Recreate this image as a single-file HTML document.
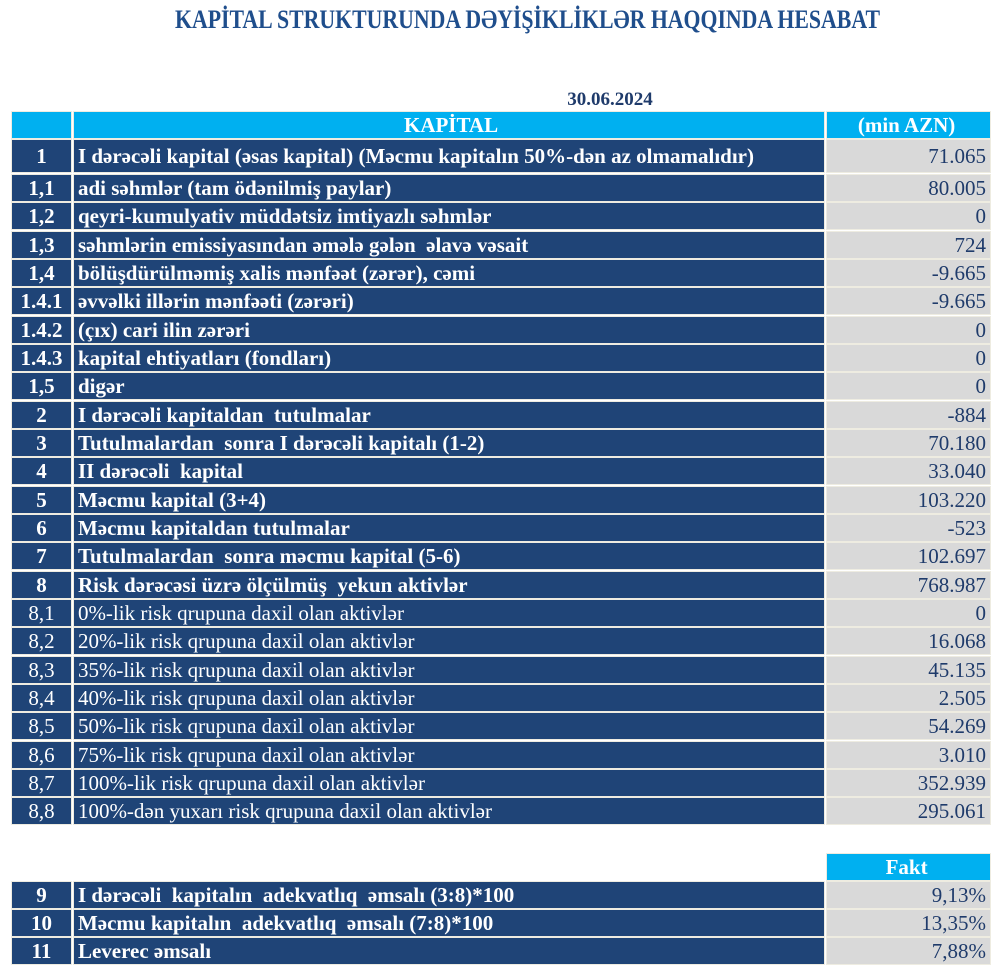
<!DOCTYPE html>
<html><head><meta charset="utf-8"><style>
body{margin:0;width:1000px;height:966px;background:#fff;position:relative;overflow:hidden;font-family:"Liberation Serif",serif}
.r{position:absolute;left:11px;width:981px;display:flex}
.r div{box-sizing:border-box;border:1px solid #eeece1;margin-right:1px;display:flex;align-items:center;font-size:21px;white-space:nowrap}
.a{width:61px;justify-content:center;background:#1f4477;color:#fff;font-weight:bold}
.b{width:753px;padding-left:4px;background:#1f4477;color:#fff;font-weight:bold}
.c{width:165px;justify-content:flex-end;padding-right:4px;background:#d9d9d9;color:#1f3b6b}
.n .a,.n .b{font-weight:normal}
</style></head><body>
<svg style="position:absolute;left:0;top:0" width="1000" height="110">
<text x="175" y="28" textLength="705" lengthAdjust="spacingAndGlyphs" font-family="Liberation Serif" font-weight="bold" font-size="26" fill="#1f4e8c">KAPİTAL STRUKTURUNDA DƏYİŞİKLİKLƏR HAQQINDA HESABAT</text>
<text x="610" y="105" text-anchor="middle" font-family="Liberation Serif" font-weight="bold" font-size="19" fill="#1f3b6b">30.06.2024</text>
</svg>
<div class="r" style="top:111px;height:28px"><div class="a" style="background:#00b0f0"></div><div class="b" style="background:#00b0f0;justify-content:center">KAPİTAL</div><div class="c" style="background:#00b0f0;color:#fff;font-weight:bold;justify-content:center">(min AZN)</div></div>
<div class="r" style="top:139px;height:34px"><div class="a">1</div><div class="b">I dərəcəli kapital (əsas kapital) (Məcmu kapitalın 50%-dən az olmamalıdır)</div><div class="c">71.065</div></div>
<div class="r" style="top:174px;height:28px"><div class="a">1,1</div><div class="b">adi səhmlər (tam ödənilmiş paylar)</div><div class="c">80.005</div></div>
<div class="r" style="top:202px;height:28px"><div class="a">1,2</div><div class="b">qeyri-kumulyativ müddətsiz imtiyazlı səhmlər</div><div class="c">0</div></div>
<div class="r" style="top:231px;height:28px"><div class="a">1,3</div><div class="b">səhmlərin emissiyasından əmələ gələn &nbsp;əlavə vəsait</div><div class="c">724</div></div>
<div class="r" style="top:259px;height:28px"><div class="a">1,4</div><div class="b">bölüşdürülməmiş xalis mənfəət (zərər), cəmi</div><div class="c">-9.665</div></div>
<div class="r" style="top:287px;height:28px"><div class="a">1.4.1</div><div class="b">əvvəlki illərin mənfəəti (zərəri)</div><div class="c">-9.665</div></div>
<div class="r" style="top:316px;height:28px"><div class="a">1.4.2</div><div class="b">(çıx) cari ilin zərəri</div><div class="c">0</div></div>
<div class="r" style="top:344px;height:28px"><div class="a">1.4.3</div><div class="b">kapital ehtiyatları (fondları)</div><div class="c">0</div></div>
<div class="r" style="top:372px;height:28px"><div class="a">1,5</div><div class="b">digər</div><div class="c">0</div></div>
<div class="r" style="top:401px;height:28px"><div class="a">2</div><div class="b">I dərəcəli kapitaldan &nbsp;tutulmalar</div><div class="c">-884</div></div>
<div class="r" style="top:429px;height:28px"><div class="a">3</div><div class="b">Tutulmalardan &nbsp;sonra I dərəcəli kapitalı (1-2)</div><div class="c">70.180</div></div>
<div class="r" style="top:457px;height:28px"><div class="a">4</div><div class="b">II dərəcəli &nbsp;kapital</div><div class="c">33.040</div></div>
<div class="r" style="top:486px;height:28px"><div class="a">5</div><div class="b">Məcmu kapital (3+4)</div><div class="c">103.220</div></div>
<div class="r" style="top:514px;height:28px"><div class="a">6</div><div class="b">Məcmu kapitaldan tutulmalar</div><div class="c">-523</div></div>
<div class="r" style="top:542px;height:28px"><div class="a">7</div><div class="b">Tutulmalardan &nbsp;sonra məcmu kapital (5-6)</div><div class="c">102.697</div></div>
<div class="r" style="top:571px;height:28px"><div class="a">8</div><div class="b">Risk dərəcəsi üzrə ölçülmüş &nbsp;yekun aktivlər</div><div class="c">768.987</div></div>
<div class="r n" style="top:599px;height:28px"><div class="a">8,1</div><div class="b">0%-lik risk qrupuna daxil olan aktivlər</div><div class="c">0</div></div>
<div class="r n" style="top:627px;height:28px"><div class="a">8,2</div><div class="b">20%-lik risk qrupuna daxil olan aktivlər</div><div class="c">16.068</div></div>
<div class="r n" style="top:656px;height:28px"><div class="a">8,3</div><div class="b">35%-lik risk qrupuna daxil olan aktivlər</div><div class="c">45.135</div></div>
<div class="r n" style="top:684px;height:28px"><div class="a">8,4</div><div class="b">40%-lik risk qrupuna daxil olan aktivlər</div><div class="c">2.505</div></div>
<div class="r n" style="top:712px;height:28px"><div class="a">8,5</div><div class="b">50%-lik risk qrupuna daxil olan aktivlər</div><div class="c">54.269</div></div>
<div class="r n" style="top:741px;height:28px"><div class="a">8,6</div><div class="b">75%-lik risk qrupuna daxil olan aktivlər</div><div class="c">3.010</div></div>
<div class="r n" style="top:769px;height:28px"><div class="a">8,7</div><div class="b">100%-lik risk qrupuna daxil olan aktivlər</div><div class="c">352.939</div></div>
<div class="r n" style="top:797px;height:28px"><div class="a">8,8</div><div class="b">100%-dən yuxarı risk qrupuna daxil olan aktivlər</div><div class="c">295.061</div></div>
<div class="r" style="top:853px;height:28px"><div class="a" style="visibility:hidden"></div><div class="b" style="visibility:hidden"></div><div class="c" style="background:#00b0f0;color:#fff;font-weight:bold;justify-content:center">Fakt</div></div>
<div class="r" style="top:881px;height:28px"><div class="a">9</div><div class="b">I dərəcəli &nbsp;kapitalın &nbsp;adekvatlıq &nbsp;əmsalı (3:8)*100</div><div class="c">9,13%</div></div>
<div class="r" style="top:909px;height:28px"><div class="a">10</div><div class="b">Məcmu kapitalın &nbsp;adekvatlıq &nbsp;əmsalı (7:8)*100</div><div class="c">13,35%</div></div>
<div class="r" style="top:937px;height:28px"><div class="a">11</div><div class="b">Leverec əmsalı</div><div class="c">7,88%</div></div>
</body></html>
